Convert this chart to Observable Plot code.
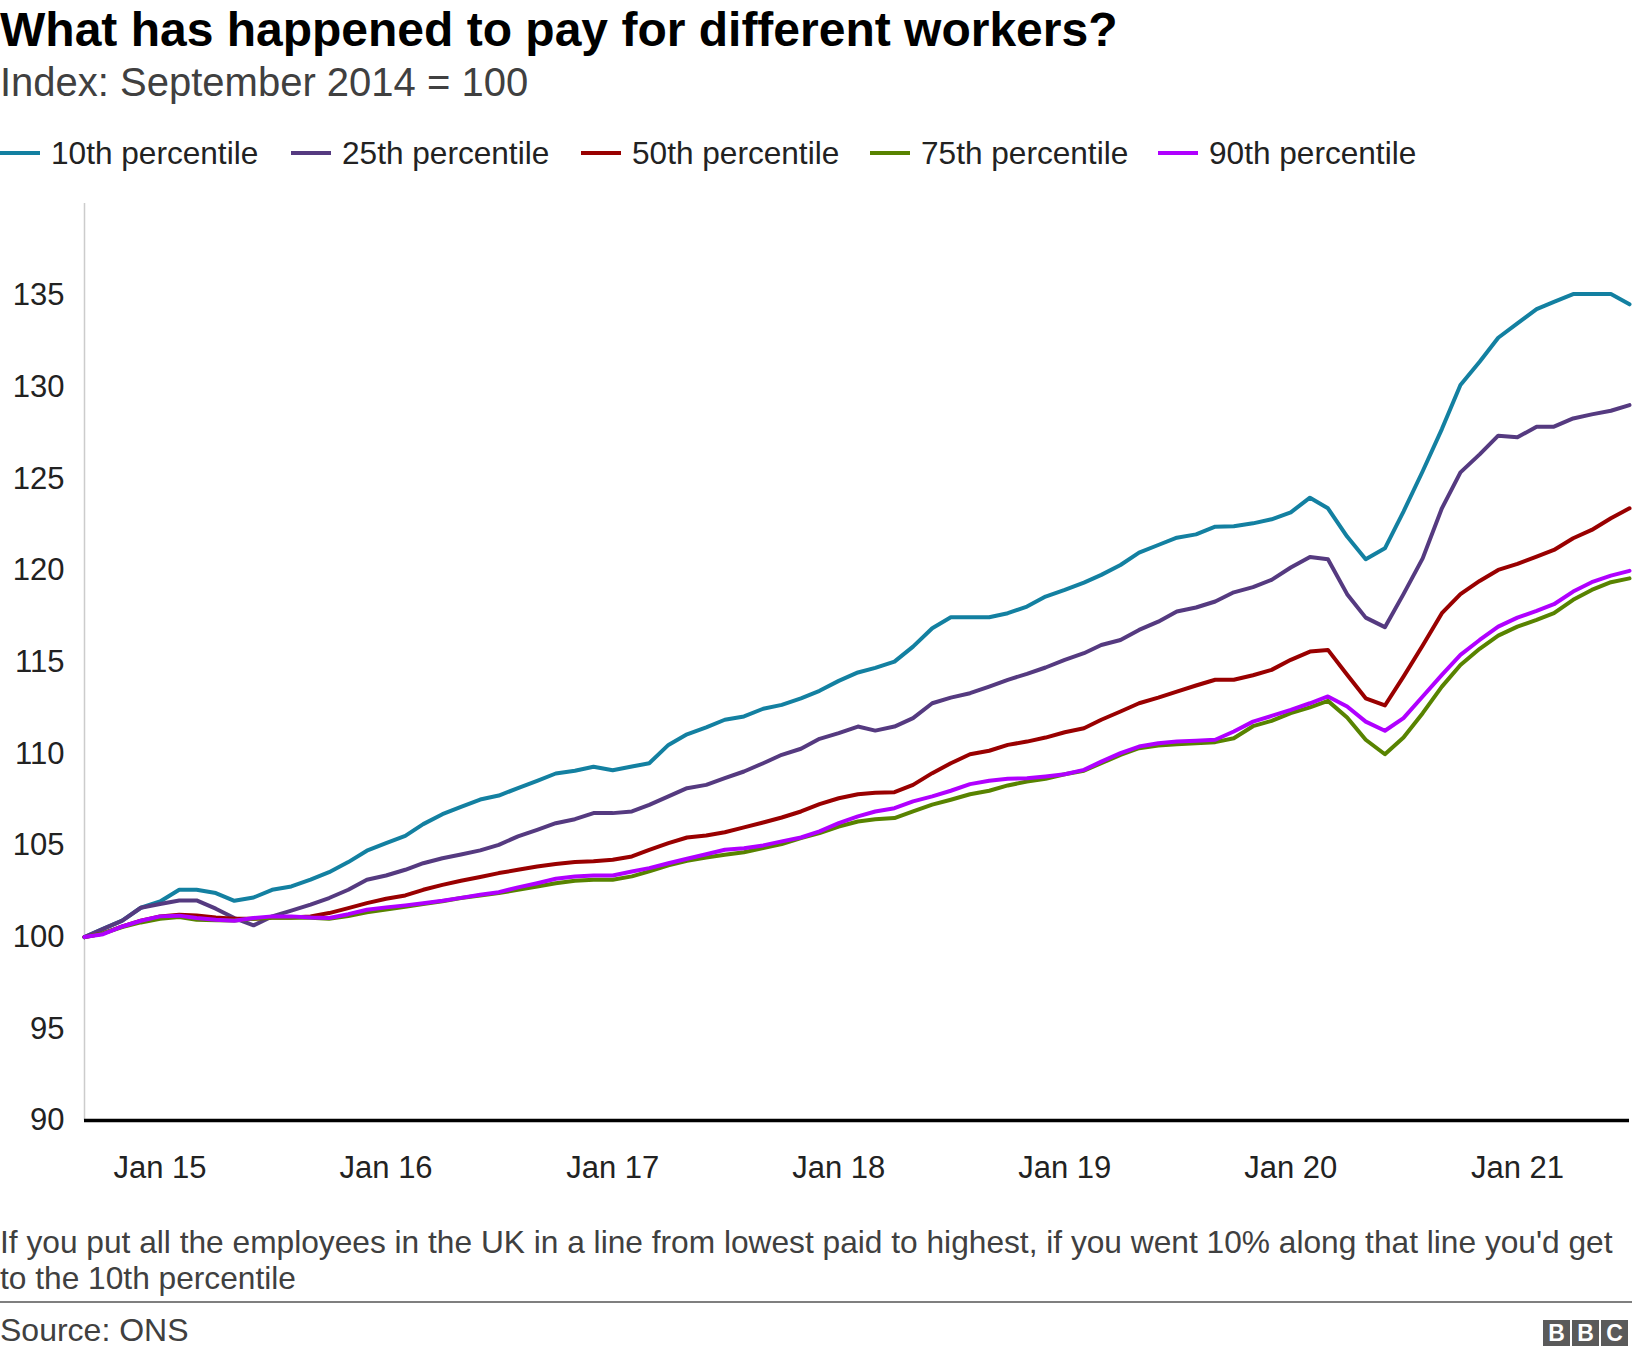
<!DOCTYPE html>
<html>
<head>
<meta charset="utf-8">
<script src="https://cdn.jsdelivr.net/npm/d3@7"></script>
<script src="https://cdn.jsdelivr.net/npm/@observablehq/plot@0.6"></script>
<style>
  body { margin: 0; background: #fff; font-family: "Liberation Sans", Arial, sans-serif; }
  #page { position: relative; width: 1632px; height: 1358px; overflow: hidden; background: #fff; }
  .abs { position: absolute; white-space: nowrap; }
  #title { left: 0; top: 6px; font-size: 48px; line-height: 48px; font-weight: bold; color: #000; }
  #subtitle { left: 0; top: 62px; font-size: 40px; line-height: 40px; color: #404040; }
  .lg-sw { position: absolute; top: 151px; width: 40px; height: 4px; }
  .lg-tx { position: absolute; top: 138px; font-size: 31.6px; line-height: 31px; color: #222; white-space: nowrap; }
  #chart { position: absolute; left: 0; top: 190px; }
  #caption { left: 0; top: 1224px; font-size: 31.7px; line-height: 36px; color: #404040; }
  #sep { position: absolute; left: 0; top: 1301px; width: 1632px; height: 2px; background: #7f7f7f; }
  #source { left: 0; top: 1314px; font-size: 32px; line-height: 32px; color: #404040; }
  .bbc { position: absolute; top: 1320px; width: 27px; height: 26px; background: #5a5a5a; color: #fff;
         font-weight: bold; font-size: 23px; line-height: 26px; text-align: center; }
</style>
</head>
<body>
<div id="page">
  <div id="title" class="abs">What has happened to pay for different workers?</div>
  <div id="subtitle" class="abs">Index: September 2014 = 100</div>
  <div id="legend"></div>
  <div id="chart"></div>
  <div id="caption" class="abs">If you put all the employees in the UK in a line from lowest paid to highest, if you went 10% along that line you'd get<br>to the 10th percentile</div>
  <div id="sep"></div>
  <div id="source" class="abs">Source: ONS</div>
  <div class="bbc" style="left:1543px">B</div>
  <div class="bbc" style="left:1572px">B</div>
  <div class="bbc" style="left:1601px">C</div>
</div>
<script>
// Monthly index values, September 2014 = 100, running Sep 2014 .. Jul 2021
const firstMonth = [2014, 8]; // September 2014 (0-based month)
const lastMonth = [2021, 6];  // July 2021

const seriesNames = ["10th percentile", "25th percentile", "50th percentile", "75th percentile", "90th percentile"];
const seriesColors = ["#1380A1", "#553A80", "#990000", "#588300", "#B000FF"];

const p10 = [100, 100.45, 100.9, 101.6, 101.94, 102.58, 102.58, 102.4, 101.98, 102.16,
  102.58, 102.76, 103.13, 103.54, 104.09, 104.71, 105.12, 105.52, 106.16, 106.7,
  107.1, 107.5, 107.72, 108.12, 108.52, 108.92, 109.07, 109.29, 109.1, 109.3,
  109.48, 110.48, 111.06, 111.44, 111.85, 112.03, 112.45, 112.66, 113.02, 113.43,
  113.97, 114.43, 114.68, 115.02, 115.84, 116.84, 117.44, 117.44, 117.44, 117.66,
  118.02, 118.57, 118.93, 119.33, 119.75, 120.29, 120.96, 121.38, 121.78, 121.96,
  122.38, 122.4, 122.56, 122.78, 123.16, 123.96, 123.38, 121.84, 120.6, 121.2,
  123.2, 125.4, 127.7, 130.1, 131.37, 132.68, 133.46, 134.24, 134.64, 135.06,
  135.06, 135.06, 134.5];

const p25 = [100, 100.45, 100.9, 101.6, 101.8, 102.0, 102.0, 101.55, 101.04, 100.64,
  101.13, 101.44, 101.77, 102.13, 102.58, 103.13, 103.36, 103.67, 104.03, 104.3,
  104.5, 104.73, 105.03, 105.49, 105.85, 106.21, 106.43, 106.76, 106.76, 106.85,
  107.21, 107.67, 108.12, 108.3, 108.67, 109.03, 109.48, 109.94, 110.27, 110.81,
  111.12, 111.48, 111.26, 111.48, 111.94, 112.75, 113.06, 113.3, 113.66, 114.03,
  114.35, 114.7, 115.12, 115.48, 115.93, 116.2, 116.75, 117.2, 117.75, 117.97,
  118.3, 118.8, 119.08, 119.48, 120.15, 120.73, 120.6, 118.7, 117.42, 116.9,
  118.7, 120.65, 123.38, 125.34, 126.32, 127.34, 127.25, 127.83, 127.83, 128.28,
  128.5, 128.7, 129.01];

const p50 = [100, 100.2, 100.58, 100.89, 101.13, 101.22, 101.18, 101.07, 101.0, 101.0,
  101.07, 101.07, 101.13, 101.31, 101.58, 101.85, 102.09, 102.27, 102.58, 102.85,
  103.07, 103.28, 103.49, 103.67, 103.85, 103.98, 104.09, 104.13, 104.22, 104.4,
  104.76, 105.12, 105.43, 105.54, 105.72, 105.98, 106.25, 106.52, 106.85, 107.25,
  107.57, 107.79, 107.87, 107.9, 108.3, 108.94, 109.48, 109.97, 110.16, 110.48,
  110.66, 110.88, 111.17, 111.39, 111.85, 112.3, 112.75, 113.06, 113.39, 113.72,
  114.03, 114.03, 114.28, 114.57, 115.12, 115.57, 115.66, 114.3, 113.02, 112.63,
  114.2, 115.9, 117.66, 118.7, 119.42, 120.02, 120.35, 120.75, 121.11, 121.75,
  122.2, 122.84, 123.38];

const p75 = [100, 100.2, 100.55, 100.8, 101.0, 101.1, 100.95, 100.92, 100.9, 101.0,
  101.05, 101.05, 101.05, 101.0, 101.15, 101.35, 101.5, 101.65, 101.8, 101.95,
  102.13, 102.27, 102.4, 102.58, 102.76, 102.94, 103.07, 103.13, 103.13, 103.31,
  103.58, 103.91, 104.16, 104.34, 104.49, 104.63, 104.85, 105.07, 105.4, 105.67,
  106.03, 106.3, 106.42, 106.49, 106.85, 107.22, 107.49, 107.79, 107.98, 108.27,
  108.48, 108.63, 108.88, 109.07, 109.48, 109.94, 110.3, 110.45, 110.52, 110.57,
  110.63, 110.84, 111.5, 111.79, 112.21, 112.53, 112.88, 111.97, 110.76, 109.97,
  110.88, 112.21, 113.66, 114.84, 115.72, 116.44, 116.93, 117.3, 117.66, 118.39,
  118.93, 119.35, 119.56];

const p90 = [100, 100.16, 100.58, 100.89, 101.13, 101.17, 101.04, 100.95, 100.89, 101.04,
  101.13, 101.13, 101.07, 101.04, 101.25, 101.49, 101.62, 101.73, 101.85, 101.98,
  102.14, 102.31, 102.45, 102.71, 102.94, 103.18, 103.31, 103.36, 103.36, 103.58,
  103.76, 104.03, 104.27, 104.52, 104.76, 104.85, 105.0, 105.22, 105.43, 105.76,
  106.21, 106.58, 106.85, 107.03, 107.4, 107.67, 107.98, 108.34, 108.52, 108.63,
  108.66, 108.76, 108.88, 109.12, 109.57, 110.03, 110.39, 110.57, 110.66, 110.7,
  110.76, 111.21, 111.75, 112.06, 112.39, 112.75, 113.12, 112.57, 111.75, 111.25,
  111.94, 113.12, 114.3, 115.39, 116.2, 116.93, 117.42, 117.79, 118.15, 118.84,
  119.35, 119.71, 119.97];

const yTicks = [90, 95, 100, 105, 110, 115, 120, 125, 130, 135];
const yDomain = [90, 140];
const xTickYears = [2015, 2016, 2017, 2018, 2019, 2020, 2021];
const xTickLabels = ["Jan 15", "Jan 16", "Jan 17", "Jan 18", "Jan 19", "Jan 20", "Jan 21"];

// ---- build table ----
const start = new Date(Date.UTC(firstMonth[0], firstMonth[1], 1));
const end = new Date(Date.UTC(lastMonth[0], lastMonth[1], 1));
const seriesValues = [p10, p25, p50, p75, p90];
const data = seriesValues.flatMap((vals, s) =>
  vals.map((v, i) => ({ date: d3.utcMonth.offset(start, i), value: v, name: seriesNames[s] })));
const xTicks = xTickYears.map(y => new Date(Date.UTC(y, 0, 1)));

// ---- legend ----
const legendLefts = [0, 291, 581, 870, 1158];
const legend = document.getElementById("legend");
seriesNames.forEach((n, i) => {
  const sw = document.createElement("div");
  sw.className = "lg-sw";
  sw.style.left = legendLefts[i] + "px";
  sw.style.background = seriesColors[i];
  legend.appendChild(sw);
  const tx = document.createElement("div");
  tx.className = "lg-tx";
  tx.style.left = (legendLefts[i] + 51) + "px";
  tx.textContent = n;
  legend.appendChild(tx);
});

// ---- chart ----
const chart = Plot.plot({
  width: 1632,
  height: 1010,
  marginTop: 13,
  marginBottom: 80,
  marginLeft: 84,
  marginRight: 3,
  style: { fontFamily: "'Liberation Sans', Arial, sans-serif", fontSize: "31px", color: "#222", background: "transparent", overflow: "visible" },
  x: { type: "utc", domain: [start, end] },
  y: { domain: yDomain },
  color: { domain: seriesNames, range: seriesColors },
  marks: [
    Plot.ruleX([start], { stroke: "#cccccc", strokeWidth: 1.5 }),
    Plot.axisY({ ticks: yTicks, tickSize: 0, tickPadding: 20, label: null, fill: "#222" }),
    Plot.axisX({ ticks: xTicks, tickSize: 0, tickPadding: 35, label: null, fill: "#222",
      tickFormat: (d) => xTickLabels[xTickYears.indexOf(d.getUTCFullYear())] }),
    Plot.line(data, { x: "date", y: "value", z: "name", stroke: "name", strokeWidth: 4 }),
    Plot.ruleY([yDomain[0]], { stroke: "#000", strokeWidth: 3.5 })
  ]
});
document.getElementById("chart").appendChild(chart);
</script>
</body>
</html>
